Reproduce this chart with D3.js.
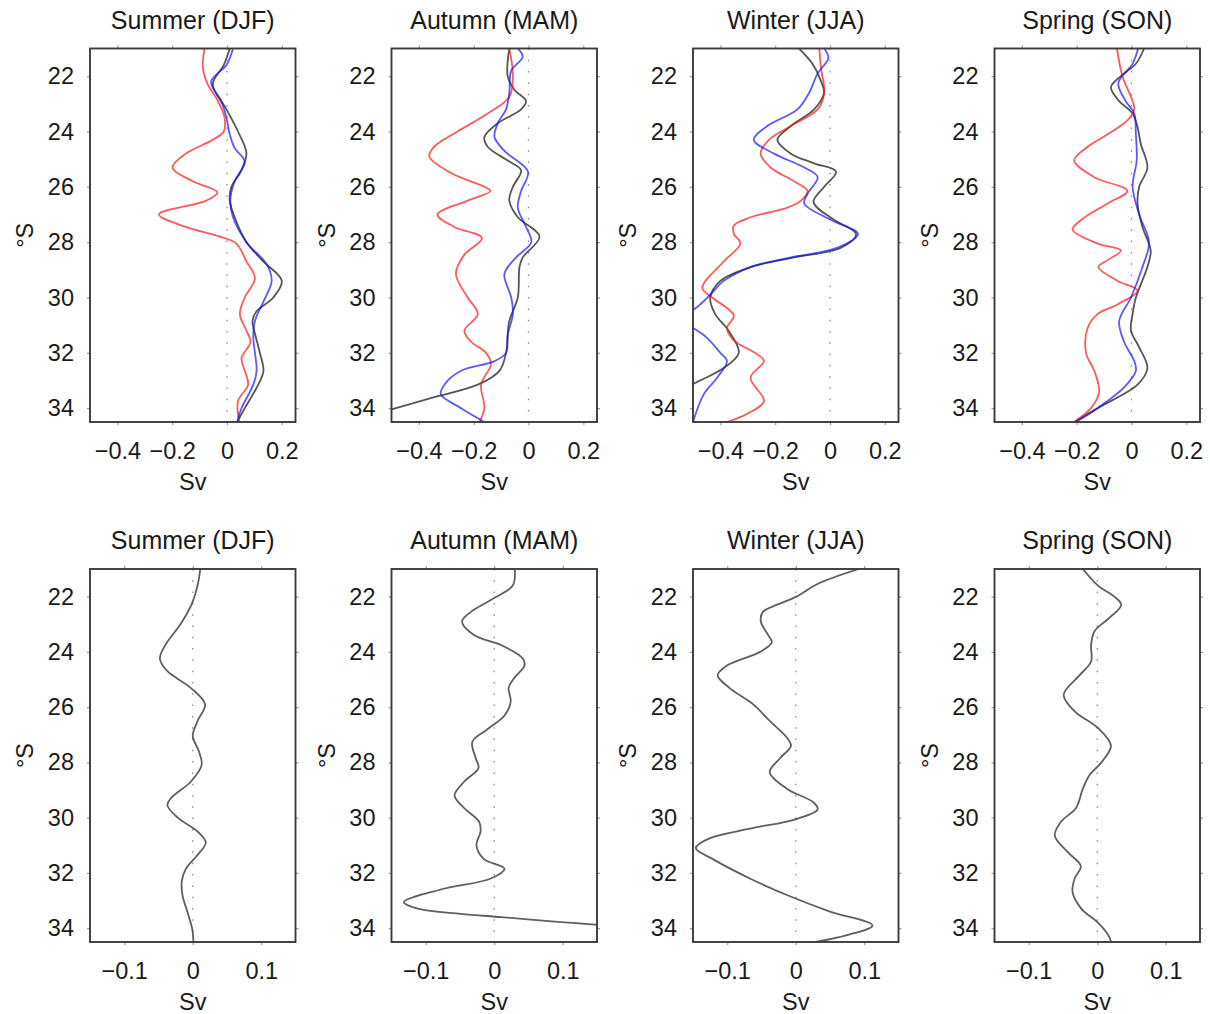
<!DOCTYPE html>
<html>
<head>
<meta charset="utf-8">
<script src="https://cdn.jsdelivr.net/npm/d3@7"></script>
<style>
  body { margin: 0; background: #fff; }
  text { font-family: "Liberation Sans", Arial, Helvetica, sans-serif; fill: #1a1a1a; }
</style>
</head>
<body>
<svg id="viewport"></svg>
<script>
const seasons = ["Summer (DJF)", "Autumn (MAM)", "Winter (JJA)", "Spring (SON)"];
const latTicks = [22, 24, 26, 28, 30, 32, 34];
const topTicks = [-0.4, -0.2, 0, 0.2];
const bottomTicks = [-0.1, 0, 0.1];

// top row: [lat °S, transport Sv]
const djfBlack = [[21,0.01],[21.6,-0.012],[22.3,-0.052],[23.2,-0.002],[24,0.04],[24.8,0.071],[25.5,0.047],[26,0.016],[26.5,0.01],[27.1,0.028],[28,0.071],[28.7,0.133],[29.4,0.2],[30,0.169],[30.5,0.108],[30.85,0.093],[31.3,0.102],[32,0.12],[32.65,0.133],[33.15,0.114],[34,0.065],[34.5,0.037]];
const djfBlue = [[21,0.022],[21.6,-0.002],[22.2,-0.058],[22.9,-0.021],[23.5,-0.002],[24.1,0.01],[24.6,0.028],[25.1,0.065],[25.8,0.028],[26.5,0.012],[27.1,0.022],[28,0.071],[28.8,0.145],[29.4,0.163],[30.15,0.133],[30.85,0.102],[31.45,0.096],[32,0.102],[32.65,0.108],[33.15,0.096],[34,0.053],[34.5,0.037]];
const djfRed = [[21,-0.082],[21.7,-0.088],[22.3,-0.07],[22.9,-0.033],[23.5,-0.009],[24,-0.012],[24.3,-0.052],[24.8,-0.15],[25.3,-0.199],[25.8,-0.125],[26.2,-0.035],[26.5,-0.076],[27,-0.248],[27.45,-0.15],[27.8,-0.027],[28.05,0.034],[28.7,0.071],[29.3,0.102],[30,0.065],[30.6,0.047],[31.2,0.071],[31.6,0.086],[32.2,0.053],[32.65,0.065],[33.15,0.077],[33.75,0.04],[34.5,0.045]];

const mamBlack = [[21,-0.07],[22,-0.076],[22.5,-0.051],[22.9,-0.009],[23.2,-0.027],[23.7,-0.112],[24.2,-0.161],[24.55,-0.149],[25.05,-0.076],[25.4,-0.027],[26,-0.057],[26.5,-0.07],[27.1,-0.039],[27.8,0.04],[28.55,-0.021],[28.9,-0.033],[30,-0.039],[30.85,-0.07],[32,-0.082],[32.65,-0.106],[33.15,-0.185],[33.6,-0.344],[34,-0.484],[34.5,-0.65]];
const mamBlue = [[21,-0.039],[21.3,-0.021],[21.8,-0.063],[22.6,-0.07],[23.2,-0.082],[23.7,-0.112],[24.2,-0.124],[24.7,-0.088],[25.45,-0.002],[26.15,-0.027],[26.75,-0.039],[27.45,-0.009],[28,0.01],[28.55,-0.045],[29.15,-0.088],[30,-0.063],[30.6,-0.057],[31.35,-0.076],[32,-0.082],[32.3,-0.124],[32.65,-0.246],[33.15,-0.307],[33.5,-0.32],[34,-0.246],[34.5,-0.161]];
const mamRed = [[21,-0.07],[22,-0.057],[22.75,-0.07],[23.35,-0.149],[24,-0.259],[24.55,-0.344],[24.9,-0.362],[25.5,-0.283],[26,-0.161],[26.15,-0.139],[26.5,-0.222],[27,-0.332],[27.45,-0.271],[27.85,-0.17],[28.45,-0.234],[29.15,-0.265],[30,-0.222],[30.6,-0.185],[31.2,-0.234],[31.6,-0.21],[32,-0.155],[32.4,-0.137],[33.15,-0.173],[34,-0.161],[34.5,-0.179]];

const jjaBlack = [[21,-0.113],[21.55,-0.064],[22.15,-0.034],[22.6,-0.022],[23.2,-0.058],[23.8,-0.143],[24.3,-0.192],[24.8,-0.143],[25.15,-0.058],[25.45,0.022],[26,-0.021],[26.55,-0.06],[27.2,0.016],[27.7,0.095],[28.2,0.04],[28.55,-0.131],[28.9,-0.29],[29.4,-0.4],[30,-0.437],[30.6,-0.419],[31.2,-0.37],[32,-0.333],[32.55,-0.388],[33,-0.474],[33.6,-0.6]];
const jjaBlue = [[21,-0.021],[21.35,-0.006],[21.9,-0.045],[22.6,-0.076],[23.2,-0.119],[23.8,-0.229],[24.3,-0.278],[24.8,-0.204],[25.3,-0.094],[25.65,-0.045],[26.25,-0.082],[26.6,-0.094],[27.2,0.004],[27.7,0.102],[28.2,0.028],[28.55,-0.143],[28.9,-0.29],[29.4,-0.388],[29.9,-0.437],[30.4,-0.492],[30.75,-0.56],[31.1,-0.5],[31.45,-0.45],[32,-0.4],[32.3,-0.376],[32.9,-0.412],[33.5,-0.461],[34.5,-0.5]];
const jjaRed = [[21,-0.039],[21.7,-0.033],[22.6,-0.021],[23.2,-0.045],[23.8,-0.143],[24.3,-0.223],[24.8,-0.253],[25.3,-0.217],[25.8,-0.131],[26.15,-0.082],[26.5,-0.106],[26.75,-0.155],[27.1,-0.29],[27.4,-0.351],[27.7,-0.351],[28.05,-0.327],[28.7,-0.388],[29.65,-0.466],[30,-0.43],[30.65,-0.351],[31.1,-0.376],[31.55,-0.351],[32.05,-0.266],[32.3,-0.241],[32.9,-0.29],[33.75,-0.241],[34.2,-0.302],[34.5,-0.376]];

const sonBlack = [[21,0.046],[21.55,0.016],[22,-0.039],[22.4,-0.075],[22.9,-0.045],[23.35,0.004],[23.85,0.022],[24.45,0.034],[25.3,0.058],[26,0.028],[26.6,0.022],[27.45,0.04],[28.3,0.07],[28.9,0.058],[30,0.016],[30.6,0.004],[31.2,-0.002],[31.8,0.028],[32.55,0.058],[33.15,0.022],[34,-0.124],[34.5,-0.209]];
const sonBlue = [[21,0.024],[21.55,0.004],[22.25,-0.048],[22.9,-0.021],[23.35,0.01],[24.1,0.016],[25.05,0.019],[26,0.004],[27,0.028],[28,0.064],[28.9,0.04],[30,-0.002],[30.85,-0.045],[31.6,-0.027],[32.3,0.01],[32.65,0.016],[33.25,-0.027],[34,-0.124],[34.5,-0.203]];
const sonRed = [[21,-0.053],[22,-0.033],[22.9,0.004],[23.2,0.01],[23.6,-0.015],[24.1,-0.087],[24.55,-0.16],[25.05,-0.209],[25.65,-0.136],[26.15,-0.015],[26.6,-0.087],[27.2,-0.184],[27.55,-0.215],[28.05,-0.124],[28.3,-0.039],[28.65,-0.087],[28.9,-0.121],[29.4,-0.051],[29.75,0.022],[30.25,-0.051],[30.6,-0.124],[31.1,-0.16],[32,-0.166],[32.65,-0.136],[33.4,-0.118],[34,-0.148],[34.5,-0.209]];

// bottom row: single difference curve per season
const djfDiff = [[21,0.011],[21.6,0.007],[22.3,-0.002],[23,-0.018],[23.75,-0.04],[24.25,-0.048],[24.7,-0.037],[25.3,-0.003],[25.9,0.018],[26.5,0.007],[27.05,0],[27.6,0.009],[28.1,0.013],[28.7,-0.003],[29.3,-0.032],[29.55,-0.037],[30,-0.022],[30.5,0.007],[30.9,0.019],[31.35,0.007],[31.85,-0.01],[32.3,-0.016],[32.8,-0.015],[33.4,-0.008],[34,-0.001],[34.5,0.001]];
const mamDiff = [[21,0.03],[21.6,0.027],[22.05,0],[22.55,-0.034],[22.9,-0.047],[23.4,-0.029],[23.75,0.01],[24.25,0.042],[24.5,0.044],[24.95,0.029],[25.3,0.021],[25.8,0.024],[26.3,0.015],[26.8,-0.01],[27.25,-0.032],[27.85,-0.027],[28.2,-0.023],[28.7,-0.044],[29.2,-0.058],[29.65,-0.044],[30.15,-0.022],[30.5,-0.02],[31,-0.026],[31.5,-0.015],[31.85,0.015],[32.2,-0.005],[32.6,-0.078],[33.06,-0.132],[33.3,-0.11],[33.48,-0.049],[33.6,0.01],[33.76,0.088],[33.87,0.147],[34.1,0.25]];
const jjaDiff = [[21,0.092],[21.55,0.031],[22,0.001],[22.3,-0.028],[22.55,-0.048],[22.9,-0.051],[23.4,-0.04],[23.65,-0.035],[24,-0.052],[24.5,-0.101],[24.85,-0.114],[25.3,-0.097],[25.9,-0.062],[26.5,-0.038],[27.1,-0.013],[27.4,-0.007],[27.85,-0.023],[28.35,-0.038],[28.95,-0.013],[29.45,0.026],[29.7,0.032],[30.05,0.001],[30.4,-0.067],[30.75,-0.126],[31.1,-0.146],[31.5,-0.121],[32.2,-0.067],[32.8,-0.013],[33.4,0.05],[33.9,0.112],[34.25,0.075],[34.55,0.016]];
const sonDiff = [[21,-0.021],[21.6,0.001],[22,0.025],[22.3,0.035],[22.8,0.016],[23.25,-0.004],[23.75,-0.009],[24.35,-0.009],[24.85,-0.026],[25.55,-0.049],[26.15,-0.033],[26.75,0.001],[27.4,0.02],[28,0.006],[28.45,-0.011],[28.95,-0.021],[29.65,-0.031],[30.15,-0.053],[30.65,-0.062],[31.25,-0.043],[31.75,-0.024],[32.2,-0.033],[32.7,-0.036],[33.3,-0.023],[33.8,0.001],[34.25,0.016],[34.55,0.021]];

const topSeries = [
  [djfBlack, djfRed, djfBlue],
  [mamBlack, mamRed, mamBlue],
  [jjaBlack, jjaRed, jjaBlue],
  [sonBlack, sonRed, sonBlue],
];
const bottomSeries = [[djfDiff], [mamDiff], [jjaDiff], [sonDiff]];
const topColors = ["rgba(30,30,30,0.75)", "rgba(255,20,20,0.7)", "rgba(20,20,255,0.7)"];
const bottomColors = ["rgba(50,50,50,0.78)"];

const panelLeft = [90, 391.5, 693, 994.5];
const panelW = 205.5;
const rows = [
  { top: 48.5, bottom: 422, xDomain: [-0.5, 0.25], ticks: topTicks, series: topSeries, colors: topColors },
  { top: 569, bottom: 942, xDomain: [-0.15, 0.15], ticks: bottomTicks, series: bottomSeries, colors: bottomColors },
];

const fmt = (d) => (d === 0 ? "0" : d3.format(".1f")(d));

const svg = d3.select("#viewport").attr("width", 1210).attr("height", 1014);

rows.forEach((row, ri) => {
  const h = row.bottom - row.top;
  panelLeft.forEach((left, ci) => {
    const g = svg.append("g").attr("transform", `translate(${left},${row.top})`);
    const x = d3.scaleLinear().domain(row.xDomain).range([0, panelW]);
    const y = d3.scaleLinear().domain([21, 34.5]).range([0, h]);

    const clipId = `clip-${ri}-${ci}`;
    g.append("clipPath").attr("id", clipId)
      .append("rect").attr("width", panelW).attr("height", h);

    // ticks on all four sides, outward
    const tickStyle = (sel) => {
      sel.select(".domain").remove();
      sel.selectAll(".tick line").attr("stroke", "#999").attr("stroke-width", 1.2);
      sel.selectAll(".tick text").attr("font-size", 23.5).attr("fill", "#1a1a1a");
    };
    g.append("g").attr("transform", `translate(0,${h})`)
      .call(d3.axisBottom(x).tickValues(row.ticks).tickSize(3).tickPadding(17.5).tickFormat(fmt))
      .call(tickStyle);
    g.append("g")
      .call(d3.axisTop(x).tickValues(row.ticks).tickSize(3).tickFormat(""))
      .call(tickStyle);
    g.append("g")
      .call(d3.axisLeft(y).tickValues(latTicks).tickSize(3).tickPadding(13))
      .call(tickStyle);
    g.append("g").attr("transform", `translate(${panelW},0)`)
      .call(d3.axisRight(y).tickValues(latTicks).tickSize(3).tickFormat(""))
      .call(tickStyle);
    g.selectAll(".tick text").attr("font-family", null);

    // zero line
    g.append("line")
      .attr("x1", x(0)).attr("x2", x(0))
      .attr("y1", 0).attr("y2", h)
      .attr("stroke", "#8a8a8a")
      .attr("stroke-width", 1.3)
      .attr("stroke-dasharray", "1.5,9.8");

    const line = d3.line()
      .x((d) => x(d[1]))
      .y((d) => y(d[0]))
      .curve(d3.curveCatmullRom.alpha(0.5));

    g.append("g").attr("clip-path", `url(#${clipId})`)
      .selectAll("path")
      .data(row.series[ci])
      .enter()
      .append("path")
      .attr("d", line)
      .attr("fill", "none")
      .attr("stroke", (d, i) => row.colors[i])
      .attr("stroke-width", 1.8);

    // box
    g.append("rect")
      .attr("width", panelW).attr("height", h)
      .attr("fill", "none")
      .attr("stroke", "#3c3c3c")
      .attr("stroke-width", 1.9);

    g.append("text")
      .attr("x", panelW / 2).attr("y", -20)
      .attr("text-anchor", "middle")
      .attr("font-size", 25)
      .text(seasons[ci]);
    g.append("text")
      .attr("x", panelW / 2).attr("y", h + 68)
      .attr("text-anchor", "middle")
      .attr("font-size", 23.5)
      .text("Sv");
    g.append("text")
      .attr("transform", `translate(-57,${h / 2}) rotate(-90)`)
      .attr("text-anchor", "middle")
      .attr("font-size", 23.5)
      .text("°S");
  });
});
</script>
</body>
</html>
